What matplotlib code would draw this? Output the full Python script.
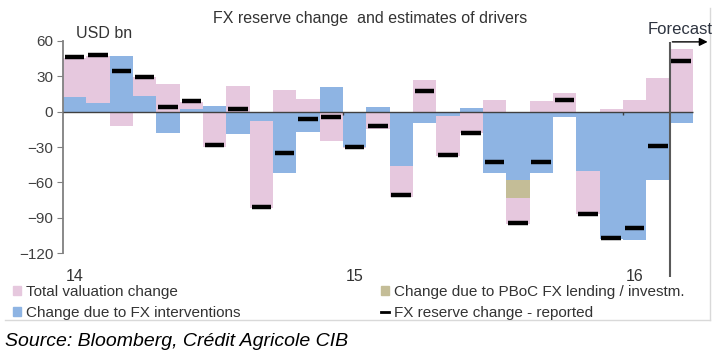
import numpy as np
import matplotlib.pyplot as plt
from matplotlib.patches import Patch
from matplotlib.lines import Line2D

plt.rcParams['font.family'] = ['Liberation Sans', 'DejaVu Sans']

# monthly values, Jan 2014 .. Mar 2016 (last month = forecast), USD bn
interventions = [12, 7, 47, 13, -18, 2, 5, -19, -8, -52, -17, 21, -30, 4,
                 -46, -10, -4, 3, -52, -58, -52, -5, -50, -108, -109, -58, -10]
pboc_lending = [0, 0, 0, 0, 0, 0, 0, 0, 0, 0, 0, 0, 0, 0,
                0, 0, 0, 0, 0, -15, 0, 0, 0, 0, 0, 0, 0]
valuation = [33, 40, -12, 16, 23, 6, -30, 22, -74, 18, 11, -25, -1, -15,
             -26, 27, -34, -18, 10, -22, 9, 16, -37, 2, 10, 28, 53]
reported = [46, 48, 34, 29, 4, 9, -28, 2, -81, -35, -6, -5, -30, -12,
            -71, 17, -37, -18, -43, -94, -43, 10, -87, -107, -99, -29, 43]
year_labels = ['14', '15', '16']
first_forecast = 26

c_blue = '#8EB4E3'
c_tan = '#C4BD97'
c_pink = '#E6C8DE'

fig = plt.figure(figsize=(7.19, 3.56), dpi=100)
W, H = 719, 356
ax = fig.add_axes([63 / W, 1 - 253.3 / H, (710 - 63) / W, (253.3 - 40.7) / H])

x = np.arange(len(reported))
pos_base = np.zeros(len(x))
neg_base = np.zeros(len(x))
for vals, col in [(interventions, c_blue), (pboc_lending, c_tan), (valuation, c_pink)]:
    v = np.array(vals, dtype=float)
    base = np.where(v >= 0, pos_base, neg_base)
    ax.bar(x, v, bottom=base, width=1.0, color=col, linewidth=0, zorder=2)
    pos_base = pos_base + np.clip(v, 0, None)
    neg_base = neg_base + np.clip(v, None, 0)

ax.hlines(reported, x - 0.42, x + 0.42, color='black', linewidth=3.2, zorder=4)

ax.hlines(0, -0.5, len(x) - 0.5, color='#404040', linewidth=1, zorder=3)
ax.vlines([11.5, 23.5], -3, 0, color='#404040', linewidth=1, zorder=3)

# forecast marker
ax.vlines(first_forecast - 0.5, -140, 59, color='#595959', linewidth=1.5, clip_on=False, zorder=5)
ax.annotate('', xy=(27.25, 59), xytext=(first_forecast - 0.5, 59),
            arrowprops=dict(arrowstyle='-|>', color='black', lw=1, mutation_scale=12),
            annotation_clip=False)
fig.text(713 / W, 1 - 30 / H, 'Forecast', ha='right', va='center', fontsize=12, color='#2E3440')

ax.set_xlim(-0.5, (710 - 63) / 23.33 - 0.5)
ax.set_ylim(-120, 60)
ax.set_yticks(np.arange(-120, 61, 30))
ax.set_xticks([0, 12, 24])
ax.set_xticklabels(year_labels)
ax.tick_params(axis='x', length=0, pad=11, labelsize=11.5, labelcolor='#333333')
ax.tick_params(axis='y', direction='out', length=4, color='#808080', labelsize=11,
               labelcolor='#404040', pad=3)
for s in ['top', 'right', 'bottom']:
    ax.spines[s].set_visible(False)
ax.spines['left'].set_color('#808080')
ax.spines['left'].set_linewidth(1.3)

fig.text(76 / W, 1 - 33 / H, 'USD bn', ha='left', va='center', fontsize=11.5, color='#333333')
fig.text(370 / W, 1 - 18 / H, 'FX reserve change  and estimates of drivers', ha='center',
         va='center', fontsize=11.5, color='#333333')

leg_kw = dict(loc='upper left', frameon=False, fontsize=11, handlelength=0.55,
              handleheight=0.55, handletextpad=0.3, labelspacing=0.45, borderpad=0,
              borderaxespad=0)
leg1 = fig.legend(handles=[Patch(color=c_pink), Patch(color=c_blue)],
                  labels=['Total valuation change', 'Change due to FX interventions'],
                  bbox_to_anchor=(13 / W, 1 - 285 / H), **leg_kw)
leg2 = fig.legend(handles=[Patch(color=c_tan), Line2D([], [], color='black', lw=2)],
                  labels=['Change due to PBoC FX lending / investm.', 'FX reserve change - reported'],
                  bbox_to_anchor=(381 / W, 1 - 285 / H), **leg_kw)
for leg in (leg1, leg2):
    for t in leg.get_texts():
        t.set_color('#333333')

# light frame lines
fig.add_artist(Line2D([5 / W, 710 / W], [1 - 320 / H, 1 - 320 / H], color='#D9D9D9', lw=1))
fig.add_artist(Line2D([710 / W, 710 / W], [1 - 8 / H, 1 - 320 / H], color='#D9D9D9', lw=1))

fig.text(5 / W, 1 - 342 / H, 'Source: Bloomberg, Crédit Agricole CIB', ha='left', va='center',
         fontsize=14, style='italic', color='black')

fig.savefig('out.png', dpi=100)
